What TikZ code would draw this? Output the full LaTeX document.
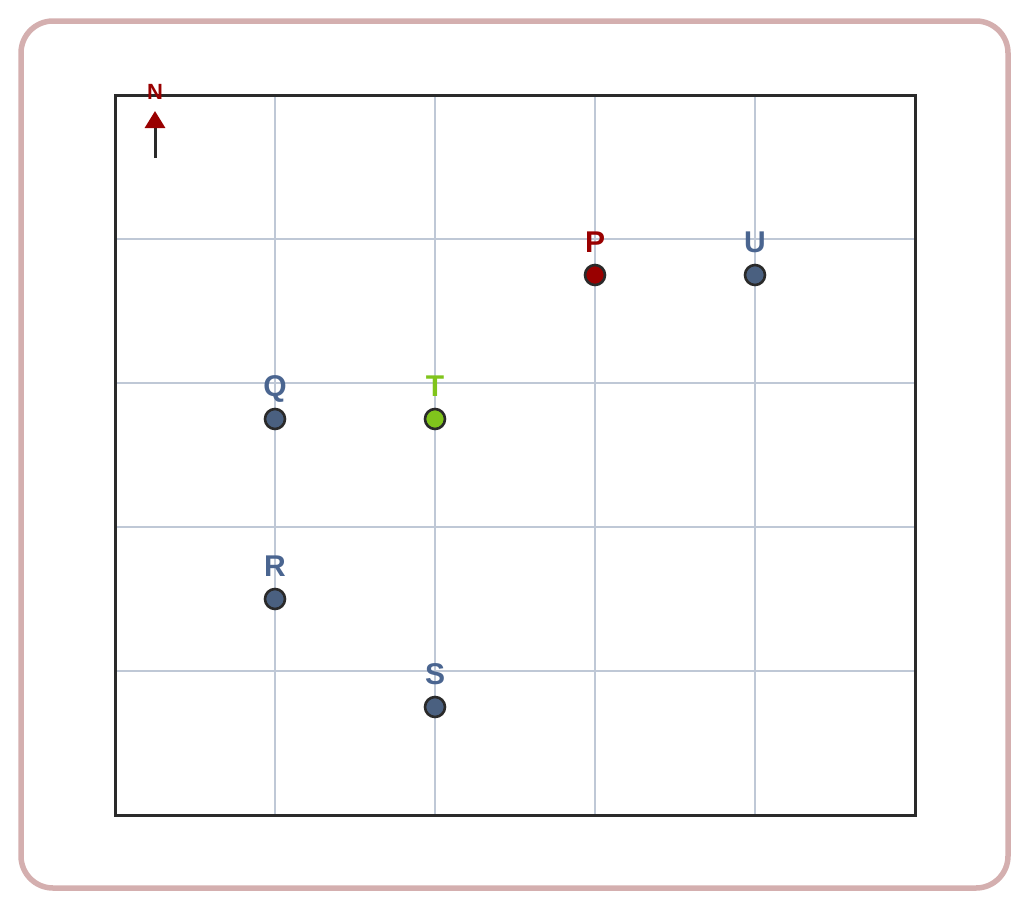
\documentclass[tikz,border=0pt]{standalone}
\usepackage{fontspec}
\setmainfont{Liberation Sans}
\usetikzlibrary{arrows.meta}
\definecolor{frame}{HTML}{D4AFAF}
\definecolor{ink}{HTML}{2A2A2A}
\definecolor{gridc}{HTML}{BFC8D6}
\definecolor{bluept}{HTML}{4A6080}
\definecolor{bluelab}{HTML}{4A6590}
\definecolor{redpt}{HTML}{990000}
\definecolor{greenpt}{HTML}{80C41C}
\tikzset{
  pt/.style={circle, draw=ink, line width=2.6pt, minimum size=20pt, inner sep=0pt},
  lab/.style={font=\fontsize{30}{30}\selectfont\bfseries, inner sep=0pt, anchor=base},
}
\begin{document}
\begin{tikzpicture}[x=1pt,y=-1pt]
\useasboundingbox (0,0) rectangle (1030,910);
\draw[frame, line width=5.5pt, rounded corners=32pt] (21,21) rectangle (1008,888);
% grid
\foreach \x in {275,435,595,755} \draw[gridc, line width=1.1pt] (\x,95) -- (\x,815);
\foreach \y in {239,383,527,671} \draw[gridc, line width=1.1pt] (115,\y) -- (915,\y);
\draw[ink, line width=3pt] (115,95) rectangle (915,815);
% north arrow
\coordinate (ntail) at (155,158);
\coordinate (nhead) at (155,111);
\draw[ink, line width=3pt, -{Triangle[length=17pt,width=20pt,color=redpt]}] (ntail) -- (nhead);
\node[font=\fontsize{22}{22}\selectfont\bfseries, text=redpt, inner sep=0pt, anchor=base] (nlab) at (155,99) {N};
% points
\node[pt, fill=redpt] (P) at (595,275) {};
\node[pt, fill=bluept] (U) at (755,275) {};
\node[pt, fill=bluept] (Q) at (275,419) {};
\node[pt, fill=greenpt] (T) at (435,419) {};
\node[pt, fill=bluept] (R) at (275,599) {};
\node[pt, fill=bluept] (S) at (435,707) {};
\node[lab, text=redpt] (Pl) at (595,252) {P};
\node[lab, text=bluelab] (Ul) at (755,252) {U};
\node[lab, text=bluelab] (Ql) at (275,396) {Q};
\node[lab, text=greenpt] (Tl) at (435,396) {T};
\node[lab, text=bluelab] (Rl) at (275,576) {R};
\node[lab, text=bluelab] (Sl) at (435,684) {S};
\end{tikzpicture}
\end{document}
